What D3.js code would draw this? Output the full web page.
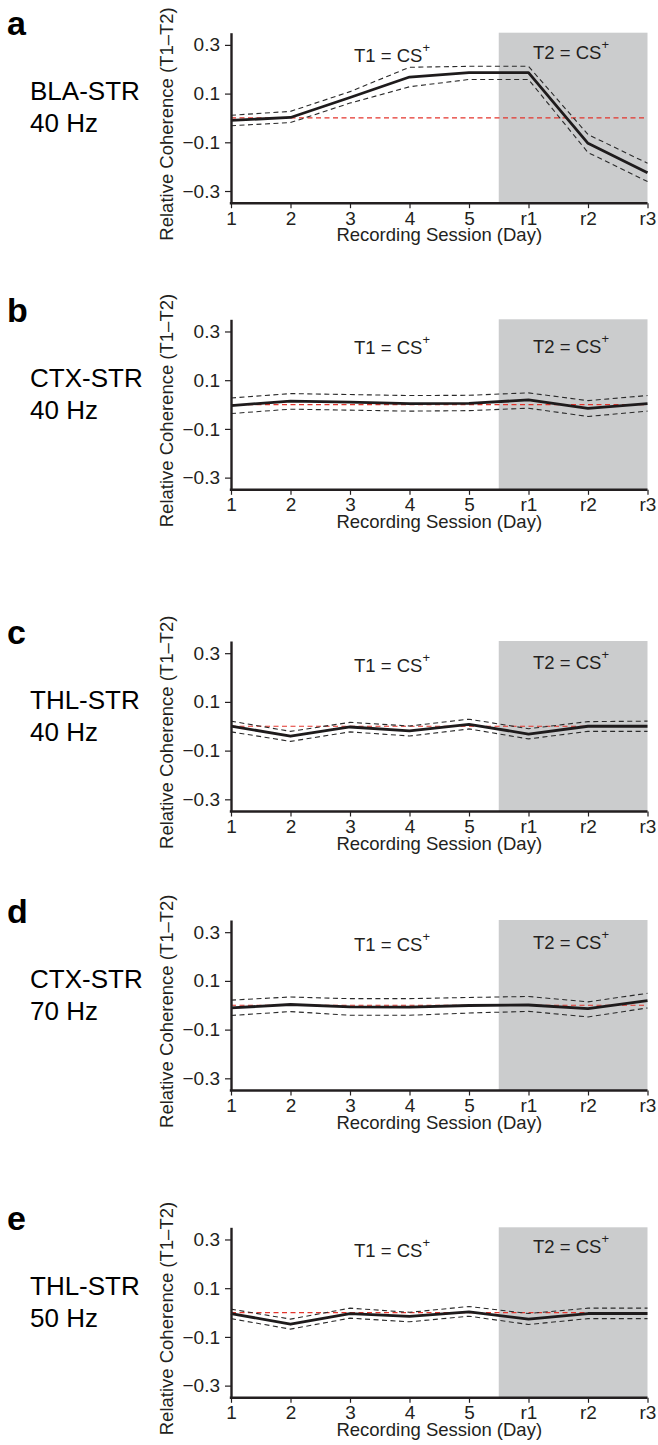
<!DOCTYPE html>
<html>
<head>
<meta charset="utf-8">
<script src="https://cdn.jsdelivr.net/npm/d3@7"></script>
<style>
  body { margin: 0; background: #fff; }
  svg { display: block; font-family: "Liberation Sans", Arial, Helvetica, sans-serif; }
</style>
</head>
<body>
<svg id="chart"></svg>
<script>
// Sessions on the x axis and the y tick values
var sessions = ["1", "2", "3", "4", "5", "r1", "r2", "r3"];
var yTicks = [-0.3, -0.1, 0.1, 0.3];

// Panel labels
var panelLetters = ["a", "b", "c", "d", "e"];
var regions = ["BLA-STR", "CTX-STR", "THL-STR", "CTX-STR", "THL-STR"];
var freqs = ["40 Hz", "40 Hz", "40 Hz", "70 Hz", "50 Hz"];

// Relative coherence (T1-T2): mean and +/- SEM bounds
var blaStr40Mean  = [-0.010, 0.002, 0.084, 0.168, 0.186, 0.186, -0.104, -0.225];
var blaStr40Upper = [0.011, 0.027, 0.108, 0.208, 0.212, 0.212, -0.068, -0.186];
var blaStr40Lower = [-0.032, -0.019, 0.061, 0.128, 0.158, 0.158, -0.142, -0.261];

var ctxStr40Mean  = [-0.004, 0.014, 0.010, 0.004, 0.005, 0.019, -0.016, 0.004];
var ctxStr40Upper = [0.027, 0.045, 0.041, 0.037, 0.038, 0.048, 0.016, 0.037];
var ctxStr40Lower = [-0.037, -0.019, -0.023, -0.027, -0.025, -0.015, -0.049, -0.027];

var thlStr40Mean  = [0.001, -0.041, -0.003, -0.019, 0.008, -0.032, 0.000, 0.000];
var thlStr40Upper = [0.021, -0.021, 0.016, 0.001, 0.029, -0.010, 0.019, 0.021];
var thlStr40Lower = [-0.023, -0.062, -0.023, -0.040, -0.011, -0.052, -0.021, -0.021];

var ctxStr70Mean  = [-0.011, 0.003, -0.007, -0.008, -0.001, 0.001, -0.014, 0.019];
var ctxStr70Upper = [0.021, 0.034, 0.027, 0.027, 0.032, 0.036, 0.014, 0.049];
var ctxStr70Lower = [-0.042, -0.026, -0.041, -0.041, -0.032, -0.025, -0.048, -0.011];

var thlStr50Mean  = [-0.004, -0.048, -0.004, -0.016, 0.003, -0.027, -0.004, -0.004];
var thlStr50Upper = [0.014, -0.027, 0.018, 0.001, 0.025, -0.004, 0.018, 0.018];
var thlStr50Lower = [-0.025, -0.068, -0.023, -0.038, -0.015, -0.049, -0.025, -0.025];

var means  = [blaStr40Mean, ctxStr40Mean, thlStr40Mean, ctxStr70Mean, thlStr50Mean];
var uppers = [blaStr40Upper, ctxStr40Upper, thlStr40Upper, ctxStr70Upper, thlStr50Upper];
var lowers = [blaStr40Lower, ctxStr40Lower, thlStr40Lower, ctxStr70Lower, thlStr50Lower];

// Layout (pixels)
var W = 658, H = 1445;
var plotLeft = 231, plotRight = 647.5, plotHeight = 170.5;
var panelTops = [32.7, 319.3, 641, 920, 1227.3];
var t1Offsets = [29, 34.5, 30.5, 31, 29.5];   // baseline of "T1 = CS+" below plot top
var t2Offsets = [26.5, 33.5, 27.5, 28.5, 26]; // baseline of "T2 = CS+" below plot top

var svg = d3.select("#chart").attr("width", W).attr("height", H);

var x = d3.scalePoint().domain(sessions).range([plotLeft, plotRight]);

panelLetters.forEach(function(letter, i) {
    var top = panelTops[i];
    var y = d3.scaleLinear().domain([-0.35, 0.35]).range([top + plotHeight, top]);
    var g = svg.append("g");

    // Shaded reversal sessions (between day 5 and r1 up to r3)
    var shadeX = x("5") + x.step() / 2;
    g.append("rect")
        .attr("x", shadeX)
        .attr("y", top)
        .attr("width", x("r3") - shadeX)
        .attr("height", plotHeight)
        .attr("fill", "#cbcccd");

    // Zero reference line
    g.append("line")
        .attr("x1", plotLeft).attr("x2", plotRight)
        .attr("y1", y(0)).attr("y2", y(0))
        .attr("stroke", "#e3342c")
        .attr("stroke-width", 1.2)
        .attr("stroke-dasharray", "5,3.5");

    var line = d3.line()
        .x(function(d, j) { return x(sessions[j]); })
        .y(function(d) { return y(d); });

    // SEM bounds
    [uppers[i], lowers[i]].forEach(function(series) {
        g.append("path")
            .datum(series)
            .attr("d", line)
            .attr("fill", "none")
            .attr("stroke", "#2a2a2a")
            .attr("stroke-width", 1.1)
            .attr("stroke-dasharray", "5,3.5");
    });

    // Mean
    g.append("path")
        .datum(means[i])
        .attr("d", line)
        .attr("fill", "none")
        .attr("stroke", "#1e1b1c")
        .attr("stroke-width", 2.8)
        .attr("stroke-linejoin", "round");

    // Axes
    var xAxis = g.append("g")
        .attr("transform", "translate(0," + (top + plotHeight) + ")")
        .call(d3.axisBottom(x).tickSize(5).tickSizeOuter(0).tickPadding(3));
    var yAxis = g.append("g")
        .attr("transform", "translate(" + plotLeft + ",0)")
        .call(d3.axisLeft(y).tickValues(yTicks).tickSize(6).tickSizeOuter(0).tickPadding(5)
            .tickFormat(d3.format(".1f")));

    [xAxis, yAxis].forEach(function(ax) {
        ax.select(".domain").attr("stroke", "#231f20").attr("stroke-width", 2.4);
        ax.selectAll(".tick line").attr("stroke", "#231f20").attr("stroke-width", 1.2);
        ax.selectAll(".tick text")
            .attr("fill", "#231f20")
            .style("font-size", "19px")
            .style("font-family", "'Liberation Sans', Arial, sans-serif");
    });
    xAxis.select(".domain").attr("d", "M" + (plotLeft - 1.2) + ",0H" + plotRight);

    // Axis titles
    g.append("text")
        .attr("x", (plotLeft + plotRight) / 2)
        .attr("y", top + plotHeight + 38)
        .attr("text-anchor", "middle")
        .attr("fill", "#231f20")
        .style("font-size", "18.5px")
        .text("Recording Session (Day)");

    g.append("text")
        .attr("transform", "translate(173," + (top + plotHeight / 2 + 6) + ") rotate(-90)")
        .attr("text-anchor", "middle")
        .attr("fill", "#231f20")
        .style("font-size", "18.5px")
        .text("Relative Coherence (T1\u2013T2)");

    // Condition annotations
    var t1 = g.append("text")
        .attr("x", plotLeft + 123)
        .attr("y", top + t1Offsets[i])
        .attr("fill", "#231f20")
        .style("font-size", "18.5px");
    t1.append("tspan").text("T1 = CS");
    t1.append("tspan").attr("dy", -10).style("font-size", "13px").text("+");

    var t2 = g.append("text")
        .attr("x", plotLeft + 302)
        .attr("y", top + t2Offsets[i])
        .attr("fill", "#231f20")
        .style("font-size", "18.5px");
    t2.append("tspan").text("T2 = CS");
    t2.append("tspan").attr("dy", -10).style("font-size", "13px").text("+");

    // Panel letter and region labels
    g.append("text")
        .attr("x", 7)
        .attr("y", top + 2.5)
        .attr("fill", "#000")
        .style("font-size", "34px")
        .style("font-weight", "bold")
        .text(letter);

    g.append("text")
        .attr("x", 30)
        .attr("y", top + 67.5)
        .attr("fill", "#000")
        .style("font-size", "26px")
        .text(regions[i]);

    g.append("text")
        .attr("x", 30)
        .attr("y", top + 99.5)
        .attr("fill", "#000")
        .style("font-size", "26px")
        .text(freqs[i]);
});
</script>
</body>
</html>
